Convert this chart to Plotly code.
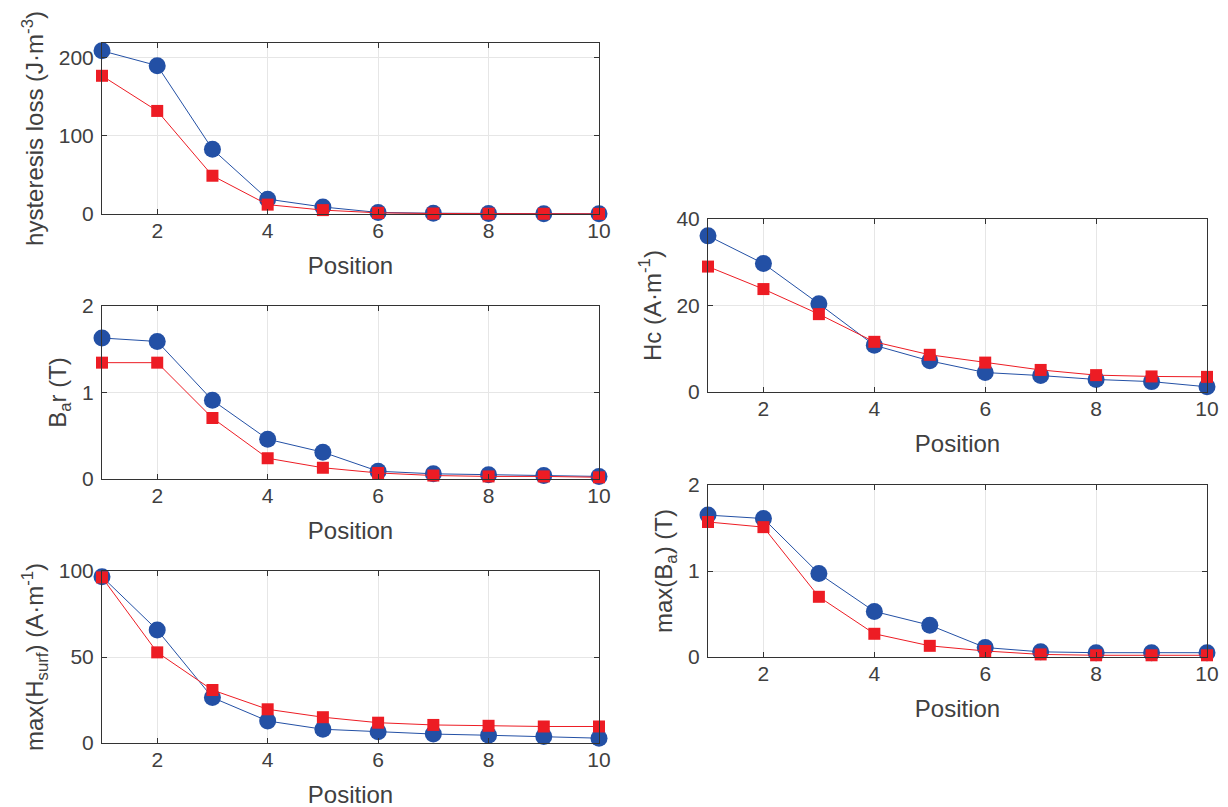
import plotly.graph_objects as go

position = [1, 2, 3, 4, 5, 6, 7, 8, 9, 10]

# hysteresis loss (J.m^-3)
loss_blue = [209, 190, 83, 19, 9, 2, 1, 0.5, 0.3, 0.2]
loss_red = [177, 132, 49, 12, 5, 1.5, 0.6, 0.4, 0.3, 0.2]

# B_a r (T)
bar_blue = [1.63, 1.59, 0.91, 0.46, 0.31, 0.09, 0.06, 0.05, 0.04, 0.03]
bar_red = [1.345, 1.345, 0.705, 0.24, 0.13, 0.07, 0.04, 0.03, 0.03, 0.02]

# max(H_surf) (A.m^-1)
hsurf_blue = [96.7, 65.7, 26.4, 12.8, 8.0, 6.5, 5.2, 4.5, 3.8, 2.8]
hsurf_red = [96.3, 52.7, 30.8, 19.6, 15.0, 11.8, 10.5, 10.0, 9.6, 9.6]

# Hc (A.m^-1)
hc_blue = [36.1, 29.7, 20.4, 10.8, 7.2, 4.5, 3.8, 2.9, 2.4, 1.2]
hc_red = [29.0, 23.8, 18.0, 11.6, 8.6, 6.8, 5.1, 3.9, 3.6, 3.5]

# max(B_a) (T)
bmax_blue = [1.65, 1.61, 0.97, 0.53, 0.37, 0.11, 0.06, 0.05, 0.05, 0.05]
bmax_red = [1.57, 1.51, 0.70, 0.27, 0.13, 0.07, 0.03, 0.02, 0.02, 0.02]

W, H = 1228, 807
OFF = 8  # page body margin shifts the plot by 8px
BLUE = "#2350a5"
RED = "#ed1c24"
TXT = "#404040"
FONT = "Liberation Sans, Arial, sans-serif"

# (blue, red, y title, y range, y ticks, x px range, y px range)
panels = [
    (loss_blue, loss_red, "hysteresis loss (J·m<sup>-3</sup>)", [0, 219], [0, 100, 200], (102, 599), (43, 214)),
    (bar_blue, bar_red, "B<sub>a</sub>r (T)", [0, 2], [0, 1, 2], (102, 599), (306, 479)),
    (hsurf_blue, hsurf_red, "max(H<sub>surf</sub>) (A·m<sup>-1</sup>)", [0, 100], [0, 50, 100], (102, 599), (571, 743)),
    (hc_blue, hc_red, "Hc (A·m<sup>-1</sup>)", [0, 40], [0, 20, 40], (708, 1207), (219, 392)),
    (bmax_blue, bmax_red, "max(B<sub>a</sub>) (T)", [0, 2], [0, 1, 2], (708, 1207), (485, 657)),
]

fig = go.Figure()
layout = {}
for i, (yb, yr, ytitle, yrange, yticks, xpx, ypx) in enumerate(panels):
    n = "" if i == 0 else str(i + 1)
    fig.add_trace(go.Scatter(
        x=position, y=yb, mode="lines+markers", xaxis="x" + n, yaxis="y" + n,
        line=dict(color=BLUE, width=1),
        marker=dict(symbol="circle", size=17, color=BLUE),
        cliponaxis=False, showlegend=False))
    fig.add_trace(go.Scatter(
        x=position, y=yr, mode="lines+markers", xaxis="x" + n, yaxis="y" + n,
        line=dict(color=RED, width=1),
        marker=dict(symbol="square", size=12, color=RED),
        cliponaxis=False, showlegend=False))

    common = dict(showline=True, linecolor="#333333", linewidth=1, mirror="ticks",
                  ticks="inside", ticklen=5, tickcolor="#333333",
                  showgrid=True, gridcolor="#e6e6e6", gridwidth=1, zeroline=False,
                  tickfont=dict(family=FONT, size=21, color=TXT), automargin=False)
    layout["xaxis" + n] = dict(
        common, domain=[(xpx[0] - OFF) / W, (xpx[1] - OFF) / W], anchor="y" + n,
        range=[1, 10], tickvals=[2, 4, 6, 8, 10], ticklabelstandoff=-2,
        title=dict(text="Position", font=dict(family=FONT, size=24, color=TXT), standoff=15))
    layout["yaxis" + n] = dict(
        common, domain=[1 - (ypx[1] - OFF) / H, 1 - (ypx[0] - OFF) / H], anchor="x" + n,
        range=yrange, tickvals=yticks, ticklabelstandoff=3,
        title=dict(text=ytitle, font=dict(family=FONT, size=24, color=TXT), standoff=8))

fig.update_layout(
    width=W, height=H,
    margin=dict(l=0, r=0, t=0, b=0),
    paper_bgcolor="white", plot_bgcolor="white",
    **layout)

fig.write_html("out.html")
